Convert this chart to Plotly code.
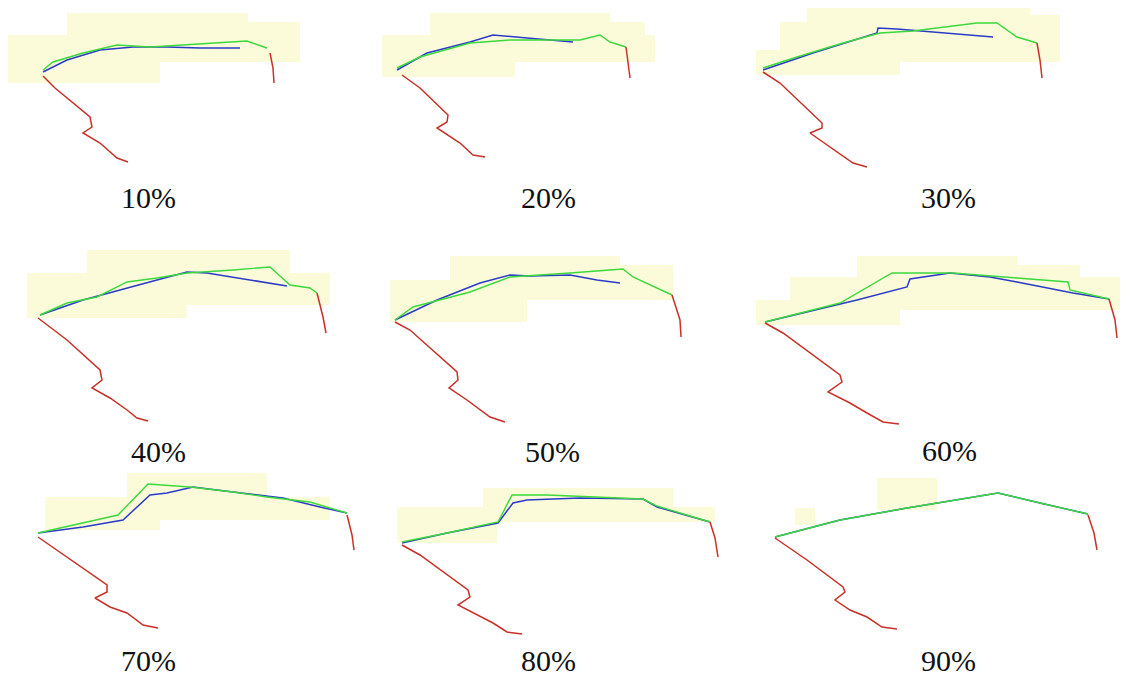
import plotly.graph_objects as go

# page offset of the plot inside the browser page (default body margin)
OFF = 8
W, H = 1130 - OFF, 679 - OFF

labels = ["10%", "20%", "30%", "40%", "50%", "60%", "70%", "80%", "90%"]
label_x = [148, 548, 948, 158, 552, 949, 148, 548, 948]
label_y = [197, 197, 197, 452, 452, 451, 660, 660, 660]

# red observed path (lower-left leg)
red_a_x = [
    [43, 55, 90, 92, 83, 100, 117, 128],
    [402, 420, 448, 447, 437, 460, 473, 485],
    [763, 780, 822, 822, 810, 830, 853, 867],
    [38, 67, 100, 102, 92, 110, 127, 137, 148],
    [395, 410, 457, 458, 449, 467, 490, 505],
    [765, 783, 840, 842, 828, 850, 867, 883, 899],
    [38, 67, 107, 107, 95, 110, 127, 143, 158],
    [402, 420, 468, 470, 458, 473, 493, 507, 522],
    [775, 807, 843, 845, 835, 850, 867, 882, 897],
]
red_a_y = [
    [76, 88, 117, 127, 133, 143, 158, 162],
    [75, 88, 115, 122, 128, 143, 155, 157],
    [72, 83, 123, 128, 133, 147, 163, 167],
    [318, 340, 370, 380, 388, 398, 410, 418, 421],
    [322, 330, 372, 380, 388, 400, 417, 422],
    [323, 333, 375, 382, 392, 403, 413, 422, 424],
    [537, 557, 585, 592, 598, 607, 613, 625, 628],
    [545, 555, 590, 597, 605, 613, 623, 632, 634],
    [538, 560, 587, 592, 600, 610, 617, 627, 629],
]
# red short end segment (right)
red_b_x = [
    [270, 273, 274], [626, 628, 630], [1037, 1040, 1042],
    [317, 323, 326], [672, 680, 681], [1109, 1115, 1117],
    [347, 352, 354], [710, 715, 718], [1088, 1094, 1097],
]
red_b_y = [
    [53, 68, 83], [47, 62, 78], [43, 60, 78],
    [293, 317, 333], [295, 320, 337], [299, 320, 338],
    [515, 535, 550], [522, 538, 557], [515, 533, 550],
]
# blue prediction
blue_x = [
    [43, 67, 100, 133, 167, 200, 240],
    [397, 427, 470, 493, 527, 573],
    [763, 813, 877, 878, 897, 930, 963, 993],
    [40, 83, 157, 187, 207, 250, 287],
    [395, 437, 480, 510, 530, 570, 597, 620],
    [765, 807, 857, 907, 910, 950, 990, 1017, 1073, 1109],
    [38, 83, 123, 150, 167, 193, 233, 283, 320, 347],
    [402, 447, 498, 513, 527, 580, 643, 657, 710],
    [775, 840, 907, 998, 1040, 1088],
]
blue_y = [
    [72, 60, 50, 47, 47, 48, 48],
    [70, 53, 42, 35, 38, 42],
    [70, 53, 33, 28, 29, 32, 35, 37],
    [315, 300, 280, 272, 273, 280, 286],
    [320, 300, 283, 275, 276, 275, 280, 283],
    [322, 312, 300, 287, 279, 273, 277, 282, 293, 299],
    [533, 527, 520, 495, 493, 487, 492, 498, 507, 513],
    [543, 533, 523, 503, 500, 498, 499, 507, 522],
    [537, 520, 508, 493, 503, 514],
]
# green prediction
green_x = [
    [43, 53, 83, 117, 150, 183, 217, 247, 267],
    [397, 420, 470, 510, 580, 600, 610, 626],
    [763, 797, 843, 880, 913, 947, 977, 997, 1017, 1037],
    [40, 67, 97, 127, 157, 187, 233, 270, 290, 310, 317],
    [395, 413, 470, 510, 570, 623, 633, 660, 672],
    [765, 840, 892, 953, 1017, 1068, 1070, 1109],
    [38, 83, 118, 148, 190, 233, 267, 310, 347],
    [402, 447, 498, 512, 547, 597, 643, 657, 710],
    [775, 840, 907, 998, 1040, 1088],
]
green_y = [
    [70, 62, 53, 45, 47, 45, 43, 41, 48],
    [68, 57, 43, 40, 40, 35, 42, 47],
    [68, 57, 43, 33, 31, 27, 23, 23, 37, 43],
    [315, 303, 297, 282, 278, 273, 270, 267, 285, 288, 293],
    [320, 307, 292, 277, 273, 269, 277, 290, 295],
    [322, 303, 273, 273, 278, 282, 290, 299],
    [533, 523, 515, 484, 487, 492, 497, 502, 513],
    [542, 533, 522, 495, 495, 497, 499, 506, 522],
    [537, 520, 508, 493, 503, 514],
]
# pale-yellow uncertainty blocks per panel: x0, x1, y0, y1
area_x0 = [
    [67, 5, 5, 160, 248], [430, 370, 370, 515, 610], [807, 780, 735, 900, 1030],
    [87, 27, 27, 187], [450, 390, 390, 620], [857, 790, 753, 900, 1017],
    [127, 45, 45], [483, 397, 397], [877, 795],
]
area_x1 = [
    [248, 300, 160, 300, 300], [610, 655, 515, 655, 645], [1030, 1060, 900, 1060, 1060],
    [290, 330, 187, 330], [620, 673, 527, 673], [1017, 1120, 900, 1120, 1080],
    [267, 330, 160], [673, 715, 497], [937, 815],
]
area_y0 = [
    [13, 35, 52, 52, 22], [13, 35, 50, 50, 22], [3, 22, 50, 50, 15],
    [250, 273, 297, 297], [256, 280, 300, 265], [256, 277, 300, 300, 265],
    [473, 497, 520], [488, 507, 522], [478, 508],
]
area_y1 = [
    [35, 52, 83, 62, 35], [35, 50, 77, 62, 35], [22, 50, 75, 62, 22],
    [273, 297, 318, 305], [280, 300, 322, 280], [277, 300, 325, 310, 277],
    [497, 520, 530], [507, 522, 543], [510, 525],
]

fig = go.Figure()
layout_axes = {}
for i in range(9):
    r, c = divmod(i, 3)
    xa = "x" if i == 0 else f"x{i+1}"
    ya = "y" if i == 0 else f"y{i+1}"
    xname = "xaxis" if i == 0 else f"xaxis{i+1}"
    yname = "yaxis" if i == 0 else f"yaxis{i+1}"
    common = dict(visible=False, showgrid=False, zeroline=False, fixedrange=True)
    layout_axes[xname] = dict(domain=[c / 3, (c + 1) / 3],
                              range=[OFF + c * W / 3, OFF + (c + 1) * W / 3],
                              anchor=ya, **common)
    layout_axes[yname] = dict(domain=[1 - (r + 1) / 3, 1 - r / 3],
                              range=[OFF + (r + 1) * H / 3, OFF + r * H / 3],
                              anchor=xa, **common)

    px, py = [], []
    for x0, x1, y0, y1 in zip(area_x0[i], area_x1[i], area_y0[i], area_y1[i]):
        px += [x0, x1, x1, x0, x0, None]
        py += [y0, y0, y1, y1, y0, None]
    fig.add_trace(go.Scatter(x=px, y=py, mode="lines", fill="toself", fillcolor="#FBFBDA",
                             line=dict(width=0, color="#FBFBDA"), xaxis=xa, yaxis=ya,
                             hoverinfo="skip", showlegend=False))
    fig.add_trace(go.Scatter(x=blue_x[i], y=blue_y[i], mode="lines",
                             line=dict(color="#2B3BC8", width=1.5), xaxis=xa, yaxis=ya, showlegend=False))
    fig.add_trace(go.Scatter(x=green_x[i], y=green_y[i], mode="lines",
                             line=dict(color="#3CD83C", width=1.4), xaxis=xa, yaxis=ya, showlegend=False))
    fig.add_trace(go.Scatter(x=red_a_x[i], y=red_a_y[i], mode="lines",
                             line=dict(color="#C83028", width=1.5), xaxis=xa, yaxis=ya, showlegend=False))
    fig.add_trace(go.Scatter(x=red_b_x[i], y=red_b_y[i], mode="lines",
                             line=dict(color="#C83028", width=1.5), xaxis=xa, yaxis=ya, showlegend=False))
    fig.add_annotation(x=label_x[i], y=label_y[i], xref=xa, yref=ya, text=labels[i],
                       showarrow=False, font=dict(family="Liberation Serif", size=30, color="#111111"))

fig.update_layout(width=W, height=H, margin=dict(l=0, r=0, t=0, b=0),
                  paper_bgcolor="white", plot_bgcolor="white", **layout_axes)
fig.write_html("out.html")
